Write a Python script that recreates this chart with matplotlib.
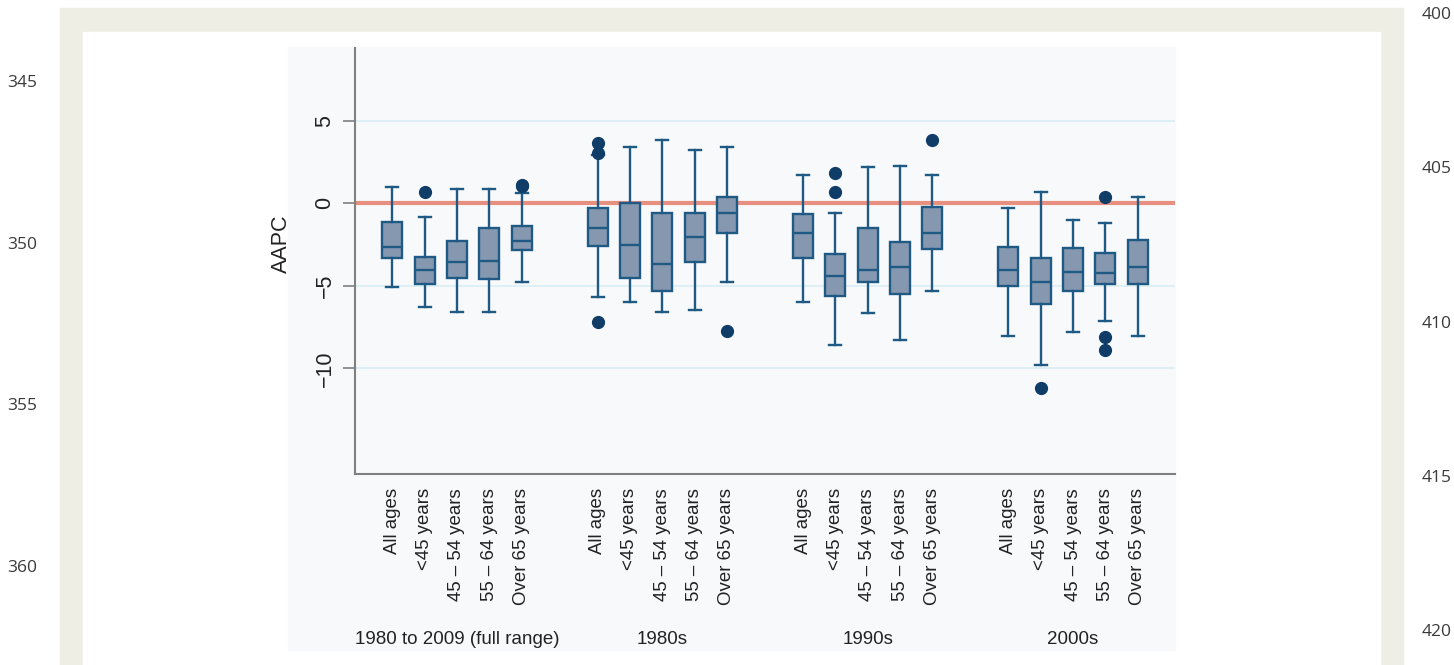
import numpy as np
import matplotlib
matplotlib.use('Agg')
from matplotlib import pyplot as plt
from matplotlib import patches, transforms

# 数据: 四个时间段, 每段五个年龄组
groups = ['1980 to 2009 (full range)', '1980s', '1990s', '2000s']
ages = ['All ages', '<45 years', '45 – 54 years', '55 – 64 years', 'Over 65 years']

whislo = [-5.10, -6.28, -6.60, -6.60, -4.78,
          -5.71, -6.01, -6.60, -6.48, -4.78,
          -6.01, -8.60, -6.62, -8.30, -5.30,
          -8.02, -9.78, -7.83, -7.13, -8.02]
q1 = [-3.34, -4.90, -4.51, -4.62, -2.83,
      -2.57, -4.51, -5.32, -3.54, -1.82,
      -3.30, -5.63, -4.76, -5.51, -2.79,
      -5.02, -6.13, -5.32, -4.88, -4.88]
med = [-2.67, -4.05, -3.54, -3.50, -2.31,
       -1.48, -2.53, -3.68, -2.02, -0.57,
       -1.78, -4.41, -4.05, -3.89, -1.78,
       -4.05, -4.80, -4.19, -4.21, -3.89]
q3 = [-1.11, -3.24, -2.31, -1.48, -1.36,
      -0.30, 0.00, -0.57, -0.57, 0.40,
      -0.67, -3.10, -1.52, -2.33, -0.20,
      -2.63, -3.34, -2.73, -3.00, -2.23]
whishi = [1.01, -0.81, 0.87, 0.87, 0.61,
          2.95, 3.40, 3.85, 3.24, 3.38,
          1.68, -0.61, 2.21, 2.27, 1.68,
          -0.30, 0.69, -1.03, -1.21, 0.40]
fliers = [[], [0.69], [], [], [1.05, 1.12],
          [3.64, 3.03, -7.19], [], [], [], [-7.73],
          [], [1.82, 0.67], [], [], [3.81],
          [], [-11.2], [], [0.40, -8.10, -8.91], []]

# 位置: 组内间距1, 组间 6.35
positions = [g * 6.35 + i for g in range(len(groups)) for i in range(len(ages))]
labels = ages * len(groups)

stats = []
for k in range(len(positions)):
    stats.append(dict(med=med[k], q1=q1[k], q3=q3[k], whislo=whislo[k],
                      whishi=whishi[k], fliers=fliers[k]))

W, H = 1454, 665
fig = plt.figure(figsize=(W / 100, H / 100), dpi=100)
fig.patch.set_facecolor('white')

# 背景框 (米色边框 + 白色内框 + 图区)
fig.patches.append(patches.Rectangle((60 / W, 0), (1403 - 60) / W, 1 - 8 / H,
                                     transform=fig.transFigure, color='#efeee4', zorder=-3))
fig.patches.append(patches.Rectangle((83 / W, 0), (1380 - 83) / W, 1 - 32 / H,
                                     transform=fig.transFigure, color='white', zorder=-2))
fig.patches.append(patches.Rectangle((288 / W, 1 - 650 / H), (1175 - 288) / W, (650 - 47) / H,
                                     transform=fig.transFigure, color='#f8f9fb', zorder=-1))

# 行号
num_font = dict(family='Open Sans', fontsize=12.5, color='#3a3a3a')
for n, y in zip([345, 350, 355, 360], [83, 245, 406, 568]):
    fig.text(22 / W, 1 - y / H, str(n), ha='center', va='center', **num_font)
for n, y in zip([400, 405, 410, 415, 420], [15, 169, 324, 478, 632]):
    fig.text(1422 / W, 1 - y / H, str(n), ha='left', va='center', **num_font)

ax = fig.add_axes([355 / W, 1 - 474 / H, (1175 - 355) / W, (474 - 48) / H])
ax.set_facecolor('none')

edge = '#1f5a85'
ax.bxp(stats, positions=positions, widths=0.62, patch_artist=True,
       boxprops=dict(facecolor='#8698b0', edgecolor=edge, linewidth=1.7),
       medianprops=dict(color=edge, linewidth=1.7),
       whiskerprops=dict(color=edge, linewidth=1.7),
       capprops=dict(color=edge, linewidth=1.7),
       capwidths=0.37,
       flierprops=dict(marker='o', markersize=8.5, markerfacecolor='#0f3d68',
                       markeredgecolor='#0f3d68'),
       zorder=3)

# 网格线与 0 参考线
for yv in [5, -5, -10]:
    ax.axhline(yv, color='#d9edf4', linewidth=1.2, zorder=1)
ax.axhline(0, color='#e8907f', linewidth=3, zorder=2)

ax.set_xlim(-1.15, positions[-1] + 1.15)
ax.set_ylim(-16.4, 9.4)

ax.set_yticks([5, 0, -5, -10])
ax.set_yticklabels(['5', '0', '−5', '−10'], family=['Liberation Sans', 'DejaVu Sans'],
                   fontsize=15.5, rotation=90, va='center', color='#222222')
ax.tick_params(axis='y', length=9, width=1.2, color='#808080', pad=5)
ax.set_ylabel('AAPC', family='Liberation Sans', fontsize=15.5, color='#222222')
ax.yaxis.set_label_coords(-0.077, 0.54)

ax.set_xticks(positions)
ax.set_xticklabels(labels, rotation=90, family='Liberation Sans', fontsize=13.4,
                   color='#222222', va='top', ha='center')
ax.tick_params(axis='x', length=0, pad=10)

for s in ['top', 'right']:
    ax.spines[s].set_visible(False)
for s in ['left', 'bottom']:
    ax.spines[s].set_color('#808080')
    ax.spines[s].set_linewidth(1.5)

# 组标签
trans = transforms.blended_transform_factory(ax.transData, fig.transFigure)
for g, name in enumerate(groups):
    xc = g * 6.35 + 2
    ax.text(xc, 1 - 640 / H, name, transform=trans, ha='center', va='center',
            family='Liberation Sans', fontsize=13.5, color='#222222')

fig.savefig('out.png', dpi=100)
